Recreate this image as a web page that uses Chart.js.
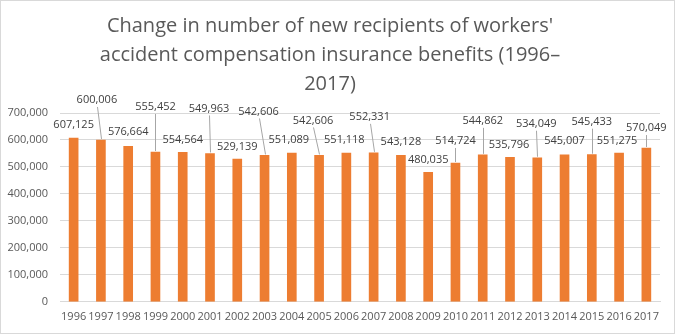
<!DOCTYPE html>
<html>
<head>
<meta charset="utf-8">
<script src="https://cdn.jsdelivr.net/npm/chart.js@4"></script>
<style>
  body { margin: 0; background: #fff; }
  #wrap { width: 675px; height: 334px; position: relative; }
</style>
</head>
<body>
<div id="wrap"><canvas id="chart"></canvas></div>
<script>
const years = ["1996", "1997", "1998", "1999", "2000", "2001", "2002", "2003", "2004", "2005", "2006",
               "2007", "2008", "2009", "2010", "2011", "2012", "2013", "2014", "2015", "2016", "2017"];
const recipients = [607125, 600006, 576664, 555452, 554564, 549963, 529139, 542606, 551089, 542606, 551118,
                    552331, 543128, 480035, 514724, 544862, 535796, 534049, 545007, 545433, 551275, 570049];
const yTicks = [0, 100000, 200000, 300000, 400000, 500000, 600000, 700000];

// where each value label sits relative to the top of its bar (px)
const labelDx = [0, -4, 0, 0, 0, -1, 0, -6, -3, -6, -2, -4, 0, 0, 0, 0, -1, -1, 0, 0, -2, 0];
const labelDy = [-13, -40, -14, -45, -12, -45, -12, -44, -13, -35, -13, -36, -13, -12, -22, -34, -12, -34, -14, -33, -12, -20];

const fmt = v => v.toLocaleString("en-US");
const FONT = "'Open Sans', sans-serif";

const frame = {
    id: "frame",
    beforeDraw(chart) {
        const ctx = chart.ctx;
        ctx.save();
        ctx.strokeStyle = "#d9d9d9";
        ctx.lineWidth = 1;
        ctx.strokeRect(0.5, 0.5, chart.width - 1, chart.height - 1);
        ctx.restore();
    }
};

const valueLabels = {
    id: "valueLabels",
    afterDatasetsDraw(chart) {
        const ctx = chart.ctx;
        const bars = chart.getDatasetMeta(0).data;
        ctx.save();
        ctx.font = "11px " + FONT;
        ctx.textAlign = "center";
        ctx.textBaseline = "middle";
        bars.forEach((bar, i) => {
            const x = bar.x + labelDx[i];
            const y = bar.y + labelDy[i];
            if (labelDy[i] < -17) {
                ctx.strokeStyle = "#a6a6a6";
                ctx.lineWidth = 1;
                ctx.beginPath();
                ctx.moveTo(Math.round(x) + 0.5, y + 7);
                ctx.lineTo(Math.round(bar.x) + 0.5, bar.y - 1);
                ctx.stroke();
            }
            ctx.fillStyle = "#404040";
            ctx.fillText(fmt(recipients[i]), x, y);
        });
        ctx.restore();
    }
};

new Chart(document.getElementById("chart"), {
    type: "bar",
    data: {
        labels: years,
        datasets: [{
            data: recipients,
            backgroundColor: "#ed7d31",
            barThickness: 9
        }]
    },
    options: {
        responsive: true,
        maintainAspectRatio: false,
        animation: false,
        layout: { padding: { left: 0, right: 15, top: 0, bottom: 3 } },
        plugins: {
            legend: { display: false },
            tooltip: { enabled: false },
            title: {
                display: true,
                text: ["Change in number of new recipients of workers'",
                       "accident compensation insurance benefits (1996\u2013",
                       "2017)"],
                color: "#595959",
                font: { family: FONT, size: 20, weight: "normal", lineHeight: "29px" },
                padding: { top: 12, bottom: 14 }
            }
        },
        scales: {
            x: {
                grid: { display: false, drawTicks: false },
                border: { color: "#d9d9d9" },
                ticks: { color: "#595959", font: { family: FONT, size: 11 }, padding: 8, maxRotation: 0, autoSkip: false }
            },
            y: {
                min: 0,
                max: 700000,
                afterFit(s) { s.width = 60; },
                afterBuildTicks(s) { s.ticks = yTicks.map(v => ({ value: v })); },
                grid: { color: "#d9d9d9", drawTicks: false },
                border: { display: false },
                ticks: { color: "#595959", font: { family: FONT, size: 11 }, padding: 12, callback: v => fmt(v) }
            }
        }
    },
    plugins: [frame, valueLabels]
});
</script>
</body>
</html>
